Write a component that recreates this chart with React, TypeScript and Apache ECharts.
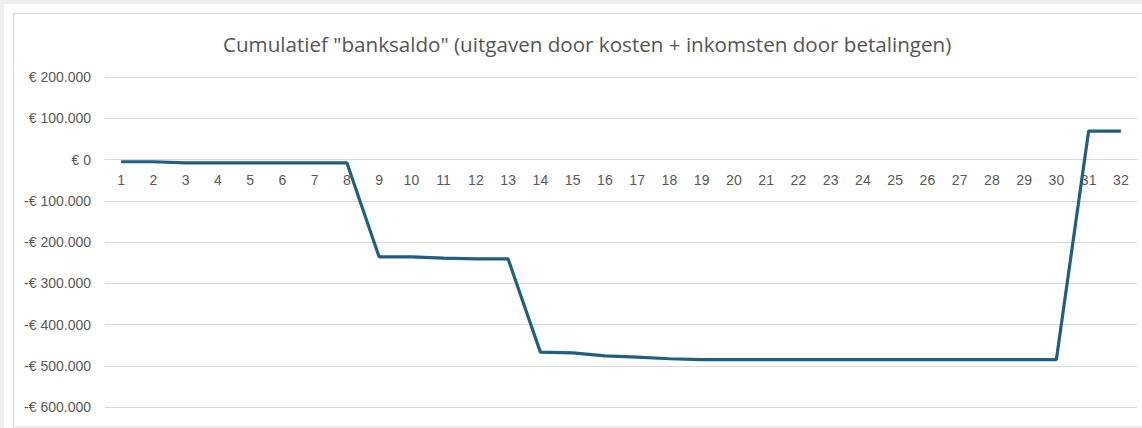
import React, { useEffect, useRef } from "react";
import * as echarts from "echarts";

const title = 'Cumulatief "banksaldo" (uitgaven door kosten + inkomsten door betalingen)';
const categories = Array.from({ length: 32 }, (_, i) => String(i + 1));
const saldo = [
  -5500, -5500, -8000, -8000, -8000, -8000, -8000, -8000,
  -236000, -236000, -239000, -241000, -241000,
  -467000, -469000, -476000, -479000, -483000, -485000,
  -485000, -485000, -485000, -485000, -485000, -485000, -485000,
  -485000, -485000, -485000, -485000,
  69000, 69000,
];
const yMin = -600000;
const yMax = 200000;
const yInterval = 100000;

function fmtEuro(v: number): string {
  const abs = Math.abs(v);
  const s = abs.toString().replace(/\B(?=(\d{3})+(?!\d))/g, ".");
  return (v < 0 ? "-€ " : "€ ") + s;
}

const GRID_TOP = 77;
const GRID_BOTTOM = 21;
const H = 428;

export default function App() {
  const ref = useRef<HTMLDivElement>(null);
  useEffect(() => {
    document.body.style.margin = "0";
    const chart = echarts.init(ref.current!, null, { renderer: "svg" });
    const font = "Liberation Sans, Arial, sans-serif";
    const gridH = H - GRID_TOP - GRID_BOTTOM;
    const zeroY = GRID_TOP + (yMax / (yMax - yMin)) * gridH;
    const xOffset = -(H - GRID_BOTTOM - zeroY);
    chart.setOption({
      animation: false,
      backgroundColor: "#ffffff",
      graphic: [
        { type: "rect", shape: { x: 0, y: 0, width: 1142, height: 4 }, style: { fill: "#eeeeee" }, silent: true },
        { type: "rect", shape: { x: 0, y: 0, width: 4, height: 428 }, style: { fill: "#eeeeee" }, silent: true },
        {
          type: "rect",
          shape: { x: 13.5, y: 13.5, width: 1200, height: 413.5 },
          style: { fill: "none", stroke: "#d9d9d9", lineWidth: 1 },
          silent: true,
        },
      ],
      title: {
        text: title,
        left: 218,
        top: 28,
        textStyle: { fontFamily: "Open Sans, sans-serif", fontSize: 20.6, fontWeight: "normal", color: "#555555" },
      },
      grid: { left: 105, right: 5, top: GRID_TOP, bottom: GRID_BOTTOM },
      xAxis: {
        type: "category",
        data: categories,
        boundaryGap: true,
        position: "bottom",
        offset: xOffset,
        axisLine: { onZero: false, lineStyle: { color: "#d9d9d9", width: 1 } },
        axisTick: { show: false },
        axisLabel: { fontFamily: font, fontSize: 14, color: "#595959", margin: 13 },
      },
      yAxis: {
        type: "value",
        min: yMin,
        max: yMax,
        interval: yInterval,
        axisLine: { show: false },
        axisTick: { show: false },
        splitLine: { lineStyle: { color: "#d9d9d9", width: 1 } },
        axisLabel: { fontFamily: font, fontSize: 14, color: "#595959", margin: 14, formatter: (v: number) => fmtEuro(v) },
      },
      series: [
        {
          type: "line",
          data: saldo,
          symbol: "none",
          lineStyle: { color: "#1f5f7f", width: 3.2 },
        },
      ],
    });
    return () => chart.dispose();
  }, []);
  return <div ref={ref} style={{ width: 1142, height: 428 }} />;
}
